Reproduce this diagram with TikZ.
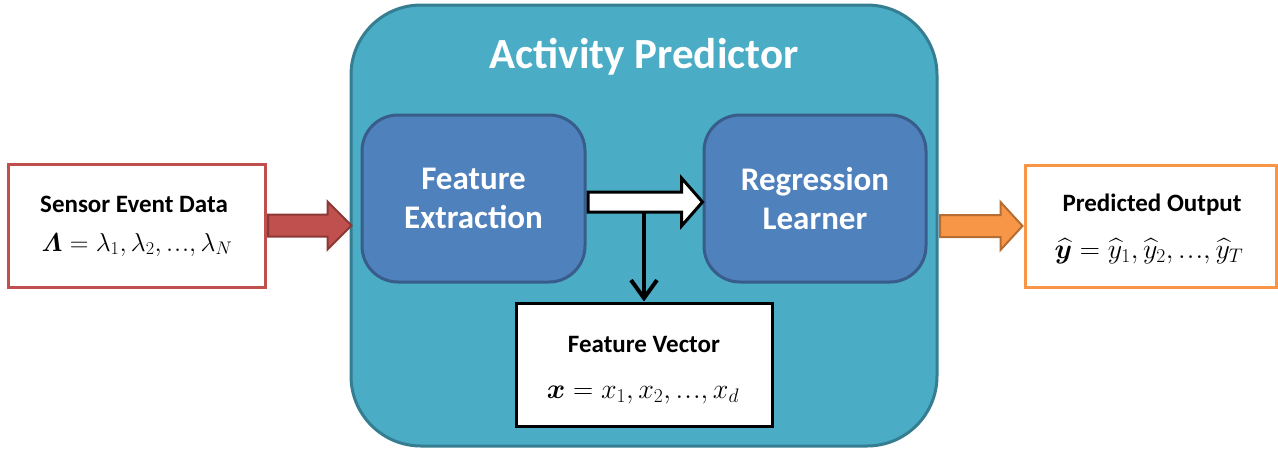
\RequirePackage{fix-cm}
\documentclass[tikz,border=0pt]{standalone}
\usepackage{amsmath,bm}
\usepackage[no-math]{fontspec}
\setmainfont{Carlito}
\usetikzlibrary{arrows.meta,calc}

\definecolor{aqua}{HTML}{4BACC6}
\definecolor{aquaedge}{HTML}{357D91}
\definecolor{steel}{HTML}{4F81BD}
\definecolor{steeledge}{HTML}{385D8A}
\definecolor{brick}{HTML}{C0504D}
\definecolor{brickedge}{HTML}{8C3836}
\definecolor{amber}{HTML}{F79646}
\definecolor{amberedge}{HTML}{B66D31}

% compact baseline ellipsis
\newcommand{\tightdots}{\mathord{.\kern0.04em.\kern0.04em.}}

\begin{document}
\begin{tikzpicture}[x=1pt,y=-1pt,
  panel/.style 2 args={rectangle, minimum width=#1, minimum height=#2, inner sep=0pt},
  stage/.style={fill=steel, draw=steeledge, line width=3pt, rounded corners=36pt},
  iobox/.style={fill=white, line width=3pt},
  label/.style={anchor=base, inner sep=0pt, font=\fontsize{25}{30}\selectfont\bfseries},
  stagetext/.style={align=center, text=white, inner sep=0pt,
    font=\fontsize{33}{39}\selectfont\bfseries},
  formula/.style={anchor=base, inner sep=0pt, font=\fontsize{#1}{30}\selectfont},
]
\useasboundingbox (0,0) rectangle (1278,448);

% enclosing predictor block
\node[panel={586pt}{441pt}, fill=aqua, draw=aquaedge, line width=3pt,
      rounded corners=70pt] (pred) at (644,225.5) {};
\node[anchor=base, inner sep=0pt, text=white,
      font=\fontsize{43}{50}\selectfont\bfseries] (title) at (644,68) {Activity Predictor};

% inner stages
\node[panel={223pt}{167pt}, stage] (fe) at (473.5,198.5) {};
\node[stagetext] (fetext) at (fe.center) {Feature\\Extraction};
\node[panel={222pt}{167pt}, stage] (rl) at (815,198.5) {};
\node[stagetext] (rltext) at (rl.center) {Regression\\Learner};

% input, output and feature vector boxes
\node[panel={257pt}{123pt}, iobox, draw=brick] (sensor) at (136.5,225.5) {};
\node[label] (sensorlbl) at (134,212) {Sensor Event Data};
\node[formula=26] (sensormath) at (137,251) {$\bm{\varLambda} = \lambda_1, \lambda_2, \tightdots, \lambda_N$};

\node[panel={251pt}{122pt}, iobox, draw=amber] (out) at (1150.5,226) {};
\node[label] (outlbl) at (1152,211) {Predicted Output};
\node[formula=28] (outmath) at (1149,258) {$\widehat{\bm{y}} = \widehat{y}_1, \widehat{y}_2, \tightdots, \widehat{y}_T$};

\node[panel={256pt}{123pt}, iobox, draw=black] (fv) at (644,364.5) {};
\node[label] (fvlbl) at (644,352) {Feature Vector};
\node[formula=28] (fvmath) at (643,398) {$\bm{x} = x_1, x_2, \tightdots, x_d$};

% block arrow: sensor data into the predictor
\filldraw[fill=brick, draw=brickedge, line width=2pt, line join=miter]
  let \p1=(sensor.east), \p2=(pred.west) in
  (\x1+1.5pt,\y1+11pt) -- (\x2-22pt,\y1+11pt) -- (\x2-22pt,\y1+24pt) -- (\x2+2pt,\y1)
  -- (\x2-22pt,\y1-24pt) -- (\x2-22pt,\y1-11pt) -- (\x1+1.5pt,\y1-11pt) -- cycle;

% block arrow: predictor to output
\filldraw[fill=amber, draw=amberedge, line width=2pt, line join=miter]
  let \p1=(pred.east), \p2=(out.west) in
  (\x1+1.5pt,\y2+11pt) -- (\x2-23pt,\y2+11pt) -- (\x2-23pt,\y2+24pt) -- (\x2-1pt,\y2)
  -- (\x2-23pt,\y2-24pt) -- (\x2-23pt,\y2-11pt) -- (\x1+1.5pt,\y2-11pt) -- cycle;

% white block arrow between the stages
\coordinate (wa) at ($(fe.east)+(0,-3.5pt)$);
\filldraw[fill=white, draw=black, line width=3pt, line join=miter]
  let \p1=(wa), \p2=(rl.west) in
  (\x1+1.5pt,\y1+10pt) -- (\x2-21pt,\y1+10pt) -- (\x2-21pt,\y1+24pt) -- (\x2,\y1)
  -- (\x2-21pt,\y1-24pt) -- (\x2-21pt,\y1-10pt) -- (\x1+1.5pt,\y1-10pt) -- cycle;

% branch down to the feature vector
\coordinate (shaftlow) at ($(wa)+(0,-10pt)$);
\draw[line width=4pt, -{Straight Barb[length=18pt,width=26pt]}]
  (fv.north |- shaftlow) -- (fv.north);
\end{tikzpicture}
\end{document}
